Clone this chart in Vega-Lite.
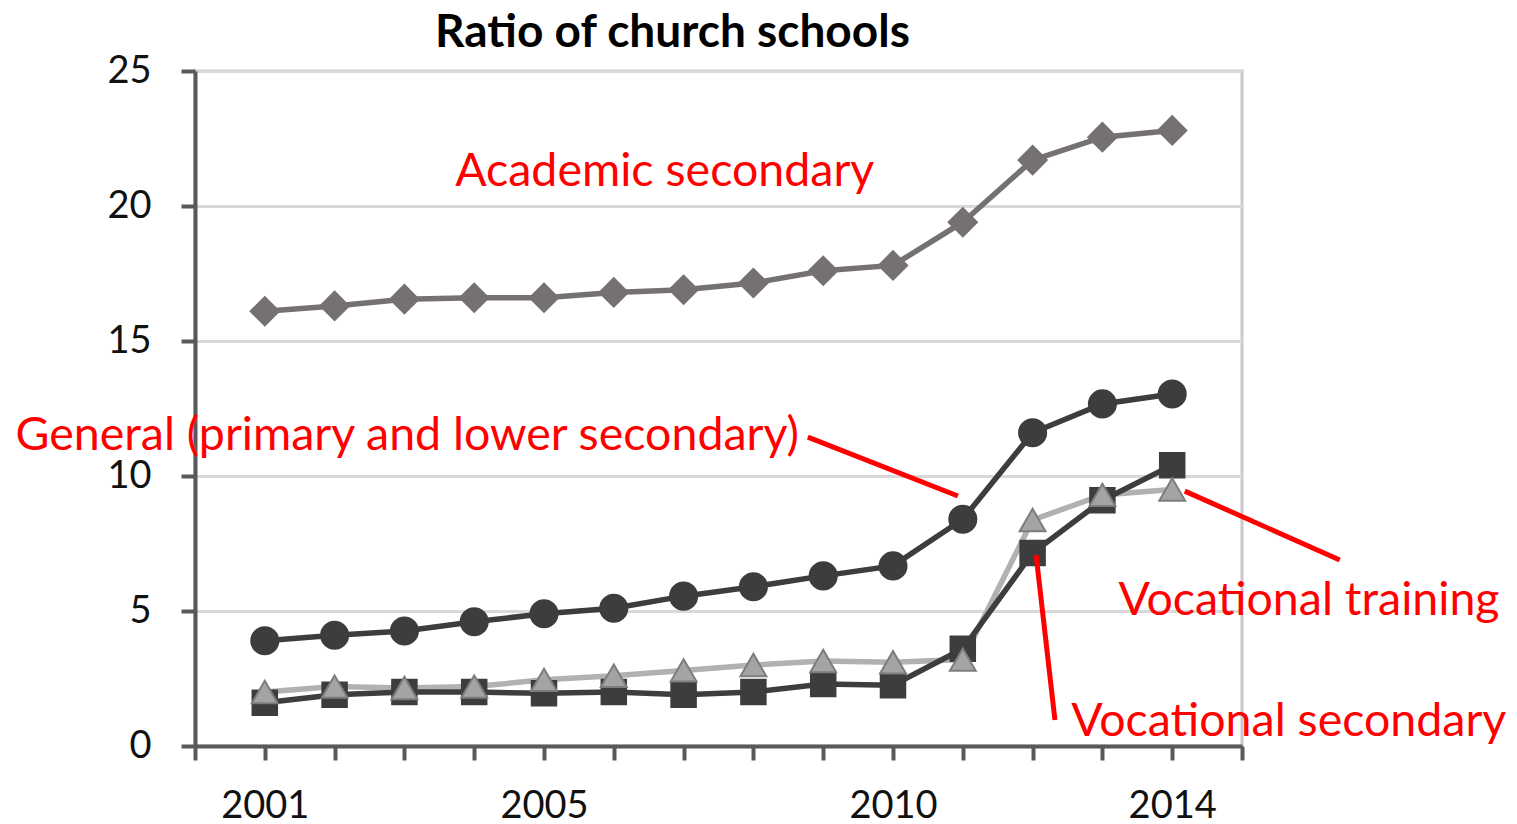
{
  "$schema": "https://vega.github.io/schema/vega-lite/v6.json",
  "width": 1047,
  "height": 675,
  "autosize": "none",
  "padding": {"left": 195, "top": 71, "right": 275, "bottom": 78},
  "background": "white",
  "config": {
    "view": {"stroke": "#c9c9c9", "strokeWidth": 3},
    "font": "Lato"
  },
  "title": {
    "text": "Ratio of church schools",
    "font": "Lato",
    "fontSize": 46,
    "fontWeight": "bold",
    "color": "#000000",
    "anchor": "middle",
    "frame": "group",
    "dx": -46,
    "baseline": "alphabetic",
    "offset": -41
  },
  "datasets": {
    "series": [
      {"year": 2001, "series": "Academic secondary", "value": 16.1},
      {"year": 2002, "series": "Academic secondary", "value": 16.3},
      {"year": 2003, "series": "Academic secondary", "value": 16.55},
      {"year": 2004, "series": "Academic secondary", "value": 16.6},
      {"year": 2005, "series": "Academic secondary", "value": 16.6},
      {"year": 2006, "series": "Academic secondary", "value": 16.8},
      {"year": 2007, "series": "Academic secondary", "value": 16.9},
      {"year": 2008, "series": "Academic secondary", "value": 17.15},
      {"year": 2009, "series": "Academic secondary", "value": 17.6},
      {"year": 2010, "series": "Academic secondary", "value": 17.8},
      {"year": 2011, "series": "Academic secondary", "value": 19.4},
      {"year": 2012, "series": "Academic secondary", "value": 21.7},
      {"year": 2013, "series": "Academic secondary", "value": 22.55},
      {"year": 2014, "series": "Academic secondary", "value": 22.8},
      {"year": 2001, "series": "General", "value": 3.9},
      {"year": 2002, "series": "General", "value": 4.1},
      {"year": 2003, "series": "General", "value": 4.26},
      {"year": 2004, "series": "General", "value": 4.6},
      {"year": 2005, "series": "General", "value": 4.9},
      {"year": 2006, "series": "General", "value": 5.1},
      {"year": 2007, "series": "General", "value": 5.55},
      {"year": 2008, "series": "General", "value": 5.9},
      {"year": 2009, "series": "General", "value": 6.3},
      {"year": 2010, "series": "General", "value": 6.67},
      {"year": 2011, "series": "General", "value": 8.4},
      {"year": 2012, "series": "General", "value": 11.6},
      {"year": 2013, "series": "General", "value": 12.67},
      {"year": 2014, "series": "General", "value": 13.04},
      {"year": 2001, "series": "Vocational training", "value": 2.0},
      {"year": 2002, "series": "Vocational training", "value": 2.2},
      {"year": 2003, "series": "Vocational training", "value": 2.15},
      {"year": 2004, "series": "Vocational training", "value": 2.2},
      {"year": 2005, "series": "Vocational training", "value": 2.45},
      {"year": 2006, "series": "Vocational training", "value": 2.6},
      {"year": 2007, "series": "Vocational training", "value": 2.8},
      {"year": 2008, "series": "Vocational training", "value": 3.0},
      {"year": 2009, "series": "Vocational training", "value": 3.15},
      {"year": 2010, "series": "Vocational training", "value": 3.1},
      {"year": 2011, "series": "Vocational training", "value": 3.2},
      {"year": 2012, "series": "Vocational training", "value": 8.37},
      {"year": 2013, "series": "Vocational training", "value": 9.3},
      {"year": 2014, "series": "Vocational training", "value": 9.5},
      {"year": 2001, "series": "Vocational secondary", "value": 1.6},
      {"year": 2002, "series": "Vocational secondary", "value": 1.9},
      {"year": 2003, "series": "Vocational secondary", "value": 2.0},
      {"year": 2004, "series": "Vocational secondary", "value": 2.0},
      {"year": 2005, "series": "Vocational secondary", "value": 1.95},
      {"year": 2006, "series": "Vocational secondary", "value": 2.0},
      {"year": 2007, "series": "Vocational secondary", "value": 1.9},
      {"year": 2008, "series": "Vocational secondary", "value": 2.0},
      {"year": 2009, "series": "Vocational secondary", "value": 2.3},
      {"year": 2010, "series": "Vocational secondary", "value": 2.25},
      {"year": 2011, "series": "Vocational secondary", "value": 3.6},
      {"year": 2012, "series": "Vocational secondary", "value": 7.15},
      {"year": 2013, "series": "Vocational secondary", "value": 9.1},
      {"year": 2014, "series": "Vocational secondary", "value": 10.4}
    ],
    "labels": [
      {"label": "Academic secondary", "x": 2006.73, "y": 21.26},
      {"label": "General (primary and lower secondary)", "x": 2003.04, "y": 11.48},
      {"label": "Vocational training", "x": 2015.96, "y": 5.37},
      {"label": "Vocational secondary", "x": 2015.67, "y": 0.89}
    ],
    "pointers": [
      {"x": 2008.78, "y": 11.44, "x2": 2010.93, "y2": 9.26},
      {"x": 2014.18, "y": 9.44, "x2": 2016.4, "y2": 6.89},
      {"x": 2012.05, "y": 7.07, "x2": 2012.32, "y2": 0.96}
    ]
  },
  "layer": [
    {
      "data": {"name": "series"},
      "mark": {"type": "line", "strokeWidth": 5.5},
      "encoding": {
        "x": {
          "field": "year", "type": "quantitative",
          "scale": {"domain": [2000, 2015], "nice": false, "zero": false},
          "axis": {
            "title": null,
            "values": [2000, 2001, 2002, 2003, 2004, 2005, 2006, 2007, 2008, 2009, 2010, 2011, 2012, 2013, 2014, 2015],
            "format": "d",
            "labelExpr": "(datum.value == 2001 || datum.value == 2005 || datum.value == 2010 || datum.value == 2014) ? datum.label : ''",
            "grid": false,
            "domainColor": "#595959",
            "domainWidth": 4,
            "tickColor": "#595959",
            "tickWidth": 4,
            "tickSize": 14,
            "labelFont": "Lato",
            "labelFontSize": 38,
            "labelColor": "#111111",
            "labelPadding": 27,
            "labelFlush": false,
            "labelOverlap": false
          }
        },
        "y": {
          "field": "value", "type": "quantitative",
          "scale": {"domain": [0, 25], "nice": false},
          "axis": {
            "title": null,
            "values": [0, 5, 10, 15, 20, 25],
            "grid": true,
            "gridColor": "#d9d9d9",
            "gridWidth": 3,
            "domainColor": "#595959",
            "domainWidth": 4,
            "tickColor": "#595959",
            "tickWidth": 4,
            "tickSize": 14,
            "labelFont": "Lato",
            "labelFontSize": 38,
            "labelColor": "#111111",
            "labelPadding": 30
          }
        },
        "color": {
          "field": "series", "type": "nominal", "legend": null,
          "scale": {
            "domain": ["Academic secondary", "General", "Vocational training", "Vocational secondary"],
            "range": ["#767171", "#3d3d3d", "#b3b0b0", "#3d3d3d"]
          }
        },
        "order": {"field": "year"},
        "detail": {"field": "series"}
      }
    },
    {
      "data": {"name": "series"},
      "mark": {"type": "point", "filled": true, "strokeWidth": 2, "opacity": 1},
      "encoding": {
        "x": {"field": "year", "type": "quantitative"},
        "y": {"field": "value", "type": "quantitative"},
        "shape": {
          "field": "series", "type": "nominal", "legend": null,
          "scale": {
            "domain": ["Academic secondary", "General", "Vocational training", "Vocational secondary"],
            "range": ["diamond", "circle", "triangle-up", "square"]
          }
        },
        "size": {
          "field": "series", "type": "nominal", "legend": null,
          "scale": {
            "domain": ["Academic secondary", "General", "Vocational training", "Vocational secondary"],
            "range": [800, 600, 1250, 640]
          }
        },
        "fill": {
          "field": "series", "type": "nominal", "legend": null,
          "scale": {
            "domain": ["Academic secondary", "General", "Vocational training", "Vocational secondary"],
            "range": ["#767171", "#3d3d3d", "#a6a3a3", "#3d3d3d"]
          }
        },
        "stroke": {
          "field": "series", "type": "nominal", "legend": null,
          "scale": {
            "domain": ["Academic secondary", "General", "Vocational training", "Vocational secondary"],
            "range": ["#767171", "#3d3d3d", "#7f7c7c", "#3d3d3d"]
          }
        },
        "order": {"field": "series", "sort": "ascending"}
      }
    },
    {
      "data": {"name": "pointers"},
      "mark": {"type": "rule", "color": "#ff0000", "strokeWidth": 5, "clip": false},
      "encoding": {
        "x": {"field": "x", "type": "quantitative"},
        "y": {"field": "y", "type": "quantitative"},
        "x2": {"field": "x2"},
        "y2": {"field": "y2"}
      }
    },
    {
      "data": {"name": "labels"},
      "mark": {"type": "text", "color": "#ff0000", "font": "Lato", "fontSize": 46.5, "align": "center", "baseline": "middle", "clip": false},
      "encoding": {
        "x": {"field": "x", "type": "quantitative"},
        "y": {"field": "y", "type": "quantitative"},
        "text": {"field": "label"}
      }
    }
  ]
}
